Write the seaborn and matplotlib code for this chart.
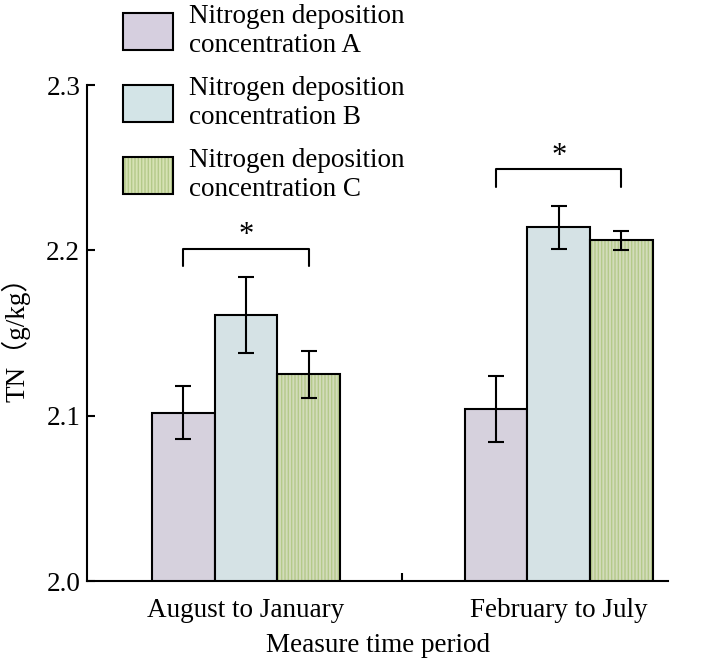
import numpy as np
import pandas as pd
import matplotlib.pyplot as plt
import seaborn as sns
from matplotlib.patches import Patch, Rectangle
from matplotlib.legend_handler import HandlerTuple

periods = ['August to January', 'February to July']
groups = ['Nitrogen deposition\nconcentration A',
          'Nitrogen deposition\nconcentration B',
          'Nitrogen deposition\nconcentration C']
tn_a = [2.102, 2.104]
tn_b = [2.161, 2.214]
tn_c = [2.125, 2.206]
err_a = [0.016, 0.020]
err_b = [0.023, 0.013]
err_c = [0.014, 0.0055]
sig_y = [2.201, 2.249]
yticks = [2.0, 2.1, 2.2, 2.3]

colors = ['#d6cfdf', '#d3e4e7', '#d6e2b4']
stripe = '#b4c98a'

df = pd.DataFrame({
    'period': periods * 3,
    'group': np.repeat(groups, 2),
    'tn': tn_a + tn_b + tn_c,
    'err': err_a + err_b + err_c,
})

sns.set_style('ticks')
plt.rcParams['font.family'] = ['Liberation Serif', 'Noto Sans CJK SC']
plt.rcParams['hatch.linewidth'] = 1.0
plt.rcParams['text.color'] = 'black'
plt.rcParams['axes.labelcolor'] = 'black'
plt.rcParams['xtick.color'] = 'black'
plt.rcParams['ytick.color'] = 'black'
plt.rcParams['axes.edgecolor'] = 'black'

fs = 19.5

fig = plt.figure(figsize=(7.2, 6.59), dpi=100)
ax = fig.add_axes([0.121, 0.118, 0.807, 0.753])

sns.barplot(data=df, x='period', y='tn', hue='group', palette=colors,
            width=0.6, errorbar=None, edgecolor='black', linewidth=1.5,
            legend=False, ax=ax)

# stripes on C bars, black outline on top
for bar in ax.containers[2]:
    bar.set_hatch('|||||')
    bar.set_edgecolor(stripe)
    bar.set_linewidth(0)
    ax.add_patch(Rectangle(bar.get_xy(), bar.get_width(), bar.get_height(),
                           fill=False, ec='black', lw=1.5, zorder=bar.get_zorder() + 0.1))

# error bars
for cont, errs in zip(ax.containers, [err_a, err_b, err_c]):
    xs = [b.get_x() + b.get_width() / 2 for b in cont]
    ys = [b.get_height() for b in cont]
    ax.errorbar(xs, ys, yerr=errs, fmt='none', ecolor='black', elinewidth=1.5,
                capsize=6, capthick=1.5, zorder=5)

# significance brackets between A and C
for i, y in enumerate(sig_y):
    xa = ax.containers[0][i].get_x() + ax.containers[0][i].get_width() / 2
    xc = ax.containers[2][i].get_x() + ax.containers[2][i].get_width() / 2
    ax.plot([xa, xa, xc, xc], [y - 0.0105, y, y, y - 0.0105], color='black', lw=1.5)
    ax.text((xa + xc) / 2, y - 0.001, '*', ha='center', va='bottom', fontsize=22)

ax.set_ylim(2.0, 2.3)
ax.set_xlim(-0.508, 1.35)
ax.set_yticks(yticks)
ax.set_yticklabels([f'{v:.1f}' for v in yticks])
ax.tick_params(axis='y', direction='in', length=6, width=1.5, labelsize=fs, pad=5)
ax.tick_params(axis='x', which='major', length=0, labelsize=fs, pad=12)
ax.set_xticks([0.5], minor=True)
ax.tick_params(axis='x', which='minor', direction='in', length=6, width=1.5)
for s in ['left', 'bottom']:
    ax.spines[s].set_linewidth(1.5)
sns.despine(ax=ax)

ax.set_xlabel('Measure time period', fontsize=fs, labelpad=7)
ax.set_ylabel('TN（g/kg）', fontsize=fs, labelpad=11)

handles = [Patch(facecolor=colors[0], edgecolor='black', lw=1.5),
           Patch(facecolor=colors[1], edgecolor='black', lw=1.5),
           (Patch(facecolor=colors[2], edgecolor=stripe, lw=0, hatch='|||||'),
            Patch(fill=False, edgecolor='black', lw=1.5))]
fig.legend(handles, groups, loc='upper left', bbox_to_anchor=(0.137, 1.031),
           frameon=False, fontsize=fs, handlelength=1.85, handleheight=1.75,
           handletextpad=0.6, labelspacing=0.67,
           handler_map={tuple: HandlerTuple(ndivide=1, pad=0)})

fig.savefig('out.png', dpi=100)
